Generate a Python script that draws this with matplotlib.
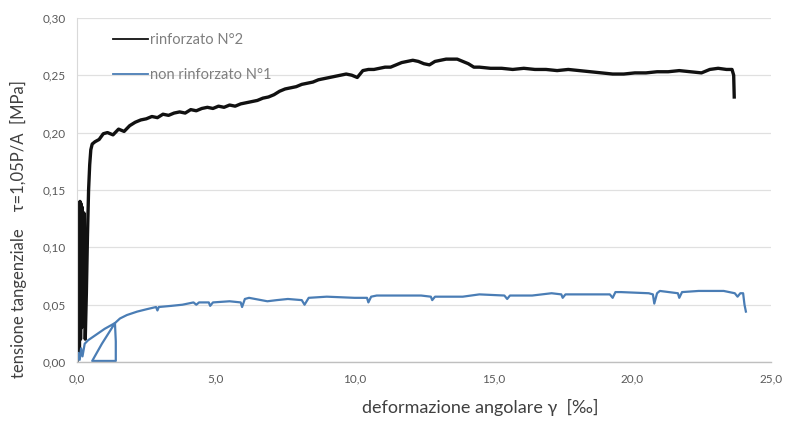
import matplotlib
matplotlib.use("Agg")
import matplotlib.pyplot as plt

plt.rcParams['font.family'] = ['Lato', 'DejaVu Sans']

# ---- data ----
black_label = "rinforzato N°2"
black_x = [0.00, 0.03, 0.05, 0.07, 0.09, 0.11, 0.13, 0.15, 0.17, 0.19, 0.21, 0.25, 0.30, 0.34, 0.38,
           0.42, 0.46, 0.50, 0.55, 0.65, 0.80, 0.95, 1.10, 1.30, 1.50, 1.70, 1.90, 2.10, 2.30, 2.50,
           2.70, 2.90, 3.10, 3.30, 3.50, 3.70, 3.90, 4.10, 4.30, 4.50, 4.70, 4.90, 5.10, 5.30, 5.50,
           5.70, 5.90, 6.10, 6.30, 6.50, 6.70, 6.90, 7.10, 7.30, 7.50, 7.70, 7.90, 8.10, 8.30, 8.50,
           8.70, 8.90, 9.10, 9.30, 9.50, 9.70, 9.90, 10.10, 10.30, 10.50, 10.70, 10.90, 11.10, 11.30,
           11.50, 11.70, 11.90, 12.10, 12.30, 12.50, 12.70, 12.90, 13.10, 13.30, 13.50, 13.70, 13.90,
           14.10, 14.30, 14.50, 14.90, 15.30, 15.70, 16.10, 16.50, 16.90, 17.30, 17.70, 18.10, 18.50,
           18.90, 19.30, 19.70, 20.10, 20.50, 20.90, 21.30, 21.70, 22.10, 22.50, 22.80, 23.10, 23.40,
           23.60, 23.66, 23.68]
black_y = [0.000, 0.120, 0.005, 0.135, 0.010, 0.140, 0.020, 0.138, 0.030, 0.135, 0.040, 0.130, 0.020,
           0.060, 0.110, 0.150, 0.172, 0.185, 0.190, 0.192, 0.194, 0.199, 0.200, 0.198, 0.203, 0.201,
           0.206, 0.209, 0.211, 0.212, 0.214, 0.213, 0.216, 0.215, 0.217, 0.218, 0.217, 0.220, 0.219,
           0.221, 0.222, 0.221, 0.223, 0.222, 0.224, 0.223, 0.225, 0.226, 0.227, 0.228, 0.230, 0.231,
           0.233, 0.236, 0.238, 0.239, 0.240, 0.242, 0.243, 0.244, 0.246, 0.247, 0.248, 0.249, 0.250,
           0.251, 0.250, 0.248, 0.254, 0.255, 0.255, 0.256, 0.257, 0.257, 0.259, 0.261, 0.262, 0.263,
           0.262, 0.260, 0.259, 0.262, 0.263, 0.264, 0.264, 0.264, 0.262, 0.260, 0.257, 0.257, 0.256,
           0.256, 0.255, 0.256, 0.255, 0.255, 0.254, 0.255, 0.254, 0.253, 0.252, 0.251, 0.251, 0.252,
           0.252, 0.253, 0.253, 0.254, 0.253, 0.252, 0.255, 0.256, 0.255, 0.255, 0.250, 0.231]

blue_label = "non rinforzato N°1"
blue_x = [0.00, 0.05, 0.10, 0.15, 0.20, 0.28, 0.40, 0.70, 1.00, 1.37, 1.40, 1.40, 0.95, 0.55, 0.90,
          1.37, 1.55, 1.80, 2.17, 2.50, 2.85, 2.90, 2.95, 3.40, 3.80, 4.20, 4.30, 4.40, 4.75, 4.80,
          4.90, 5.50, 5.90, 5.95, 6.05, 6.20, 6.86, 7.20, 7.60, 8.10, 8.20, 8.35, 9.00, 10.00, 10.45,
          10.50, 10.60, 10.80, 11.50, 12.40, 12.75, 12.80, 12.90, 13.90, 14.50, 15.40, 15.50, 15.60,
          16.40, 17.10, 17.45, 17.50, 17.60, 18.20, 19.20, 19.30, 19.40, 19.60, 20.60, 20.75, 20.80,
          20.90, 21.00, 21.65, 21.70, 21.80, 22.40, 23.30, 23.70, 23.80, 23.90, 24.00, 24.05, 24.10]
blue_y = [0.000, 0.008, 0.002, 0.012, 0.005, 0.016, 0.019, 0.024, 0.029, 0.034, 0.018, 0.001, 0.001,
          0.001, 0.016, 0.034, 0.038, 0.041, 0.044, 0.046, 0.048, 0.045, 0.048, 0.049, 0.050, 0.052,
          0.050, 0.052, 0.052, 0.049, 0.052, 0.053, 0.052, 0.048, 0.055, 0.056, 0.053, 0.054, 0.055,
          0.054, 0.050, 0.056, 0.057, 0.056, 0.056, 0.052, 0.057, 0.058, 0.058, 0.058, 0.057, 0.054,
          0.057, 0.057, 0.059, 0.058, 0.055, 0.058, 0.058, 0.060, 0.059, 0.056, 0.059, 0.059, 0.059,
          0.056, 0.061, 0.061, 0.060, 0.059, 0.051, 0.060, 0.062, 0.060, 0.056, 0.061, 0.062, 0.062,
          0.060, 0.057, 0.060, 0.060, 0.050, 0.044]

x_ticks = [0, 5, 10, 15, 20, 25]
x_ticklabels = ["0,0", "5,0", "10,0", "15,0", "20,0", "25,0"]
y_ticks = [0.00, 0.05, 0.10, 0.15, 0.20, 0.25, 0.30]
y_ticklabels = ["0,00", "0,05", "0,10", "0,15", "0,20", "0,25", "0,30"]

x_title = "deformazione angolare γ  [‰]"
y_title = "tensione tangenziale    τ=1,05P/A  [MPa]"

# ---- figure ----
fig = plt.figure(figsize=(7.85, 4.24), dpi=100)
ax = fig.add_axes([0.098, 0.146, 0.884, 0.812])

ax.plot(black_x, black_y, color='#111111', lw=2.4, label=black_label, solid_joinstyle='round')
ax.plot(blue_x, blue_y, color='#4a7db5', lw=1.6, label=blue_label)

ax.set_xlim(0, 25)
ax.set_ylim(0, 0.30)
ax.set_xticks(x_ticks)
ax.set_xticklabels(x_ticklabels)
ax.set_yticks(y_ticks)
ax.set_yticklabels(y_ticklabels)
ax.tick_params(length=0, labelsize=8.5, colors='#595959', pad=8)

ax.grid(axis='y', color='#e0e0e0', lw=0.9)
ax.set_axisbelow(True)
for s in ['top', 'right']:
    ax.spines[s].set_visible(False)
ax.spines['left'].set_color('#d9d9d9')
ax.spines['bottom'].set_color('#bfbfbf')
ax.spines['bottom'].set_linewidth(1.0)

leg = ax.legend(loc='upper left', bbox_to_anchor=(0.033, 0.995), frameon=False,
                fontsize=10.5, handlelength=2.4, handletextpad=0.15, labelspacing=1.45,
                labelcolor='#7f7f7f')
for h in leg.get_lines():
    h.set_linewidth(1.3)

fig.text(480 / 785, 1 - 407 / 424, x_title, ha='center', va='center', fontsize=13, color='#404040')
fig.text(18 / 785, 1 - 229 / 424, y_title, ha='center', va='center', rotation=90,
         fontsize=12, color='#404040')

fig.savefig('out.png', dpi=100)
